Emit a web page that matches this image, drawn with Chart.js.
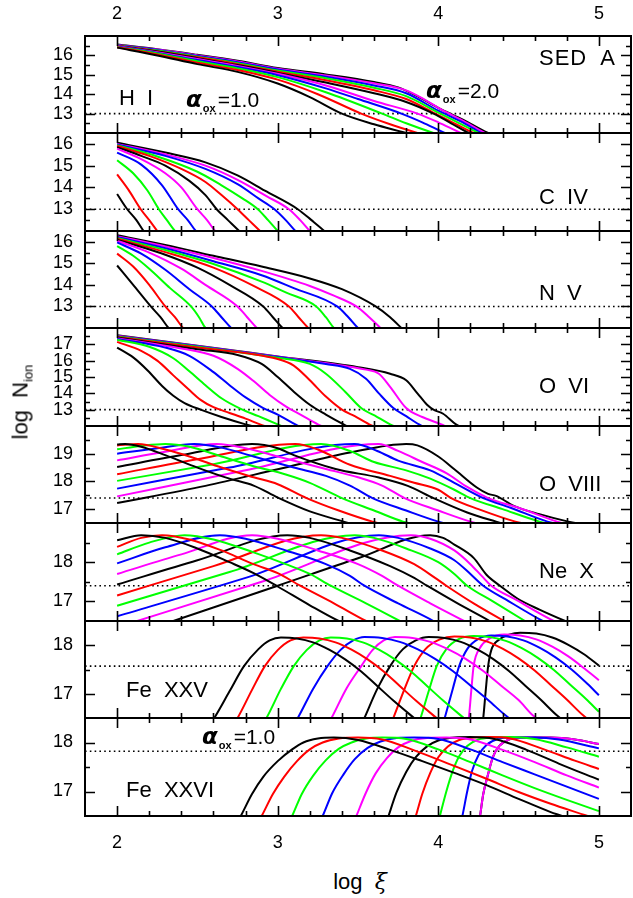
<!DOCTYPE html>
<html>
<head>
<meta charset="utf-8">
<script src="https://cdn.jsdelivr.net/npm/chart.js@4.4.1/dist/chart.umd.min.js"></script>
<style>
  html, body { margin: 0; padding: 0; background: #fff; }
  #fig { position: relative; width: 633px; height: 898px; overflow: hidden; background: #fff;
         font-family: 'Liberation Sans', Arial, sans-serif; color: #000; }
  #fig canvas { position: absolute; left: 0; }
  .lbl { position: absolute; white-space: pre; font-size: 22px; line-height: 1; transform: translateY(-50%); }
  .alpha { position: absolute; white-space: nowrap; line-height: 1; transform: translateY(-50%); }
  .alpha .a { font: bold italic 23px 'DejaVu Sans', sans-serif; }
  .alpha .s { font: bold 11px 'Liberation Sans', Arial, sans-serif; position: relative; top: 5px; margin-left: 1px; }
  .alpha .v { font-size: 21px; margin-left: 2px; }
  sub { font-size: 13px; vertical-align: -5px; }
</style>
</head>
<body>
<div id="fig"></div>
<script>
// ---- data: log column density vs log ionisation parameter, one curve per alpha_ox ----
const alphaOx = [1.0, 1.1, 1.2, 1.3, 1.4, 1.5, 1.6, 1.7, 1.8, 1.9, 2.0];
const xTickValues = [2, 3, 4, 5];
const ionNames = ['H  I', 'C  IV', 'N  V', 'O  VI', 'O  VIII', 'Ne  X', 'Fe  XXV', 'Fe  XXVI'];
const yMins = [12, 12, 12, 12, 16.5, 16.5, 16.5, 16.5];
const yMaxs = [17, 16.5, 16.5, 18, 20, 19, 18.5, 18.5];
const yTickLabels = [[13, 14, 15, 16], [13, 14, 15, 16], [13, 14, 15, 16], [13, 14, 15, 16, 17],
                     [17, 18, 19], [17, 18], [17, 18], [17, 18]];
const detectionLimits = [13, 13, 13, 13, 17.4, 17.4, 17.57, 17.82];

const hI = [
  [[2,16.4],[2.25,16.0],[2.5,15.55],[2.75,15.15],[3,14.55],[3.2,13.85],[3.4,13.0],[3.6,12.45],[3.8,12.0],[3.9,11.75]],
  [[2,16.42],[2.25,16.05],[2.5,15.62],[2.75,15.25],[3,14.75],[3.25,14.0],[3.52,13.0],[3.7,12.45],[3.87,12.0],[3.95,11.8]],
  [[2,16.44],[2.25,16.1],[2.5,15.7],[2.75,15.33],[3,14.88],[3.3,14.1],[3.65,13.0],[3.8,12.5],[3.97,12.0],[4.05,11.8]],
  [[2,16.46],[2.25,16.13],[2.5,15.76],[2.75,15.4],[3,14.98],[3.3,14.3],[3.5,13.75],[3.77,13.0],[3.9,12.55],[4.04,12.0],[4.1,11.8]],
  [[2,16.48],[2.25,16.16],[2.5,15.82],[2.75,15.46],[3,15.05],[3.3,14.45],[3.6,13.65],[3.87,13.0],[4.0,12.55],[4.14,12.0],[4.2,11.8]],
  [[2,16.49],[2.25,16.2],[2.5,15.86],[2.75,15.5],[3,15.1],[3.3,14.6],[3.6,14.05],[3.8,13.6],[3.97,13.0],[4.08,12.5],[4.19,12.0],[4.25,11.8]],
  [[2,16.5],[2.25,16.22],[2.5,15.9],[2.75,15.55],[3,15.16],[3.3,14.72],[3.6,14.2],[3.8,13.75],[3.98,13.0],[4.1,12.5],[4.22,12.0],[4.28,11.8]],
  [[2,16.51],[2.25,16.25],[2.5,15.93],[2.75,15.6],[3,15.22],[3.3,14.82],[3.6,14.33],[3.8,13.9],[4.0,13.05],[4.12,12.55],[4.25,12.0],[4.3,11.8]],
  [[2,16.52],[2.25,16.28],[2.5,15.97],[2.75,15.65],[3,15.27],[3.3,14.9],[3.6,14.45],[3.8,14.05],[4.0,13.15],[4.14,12.6],[4.27,12.0],[4.32,11.8]],
  [[2,16.54],[2.25,16.3],[2.5,16.0],[2.75,15.69],[3,15.31],[3.3,14.97],[3.6,14.56],[3.8,14.2],[3.92,13.7],[4.02,13.2],[4.15,12.65],[4.29,12.0],[4.35,11.8]],
  [[2,16.56],[2.25,16.32],[2.5,16.03],[2.75,15.72],[3,15.35],[3.3,15.02],[3.6,14.63],[3.75,14.35],[3.88,13.85],[4.0,13.3],[4.15,12.7],[4.31,12.0],[4.38,11.8]]
];

const cIV = [
  [[2,13.7],[2.063,13.0],[2.12,12.5],[2.165,12.0],[2.2,11.7]],
  [[2,14.6],[2.07,13.9],[2.147,13.0],[2.2,12.5],[2.25,12.0],[2.28,11.7]],
  [[2,15.25],[2.1,14.65],[2.19,13.85],[2.26,13.0],[2.31,12.5],[2.36,12.0],[2.4,11.7]],
  [[2,15.6],[2.15,15.05],[2.28,14.1],[2.38,13.0],[2.44,12.5],[2.49,12.0],[2.53,11.7]],
  [[2,15.78],[2.15,15.3],[2.3,14.65],[2.4,14.0],[2.5,13.0],[2.56,12.5],[2.61,12.0],[2.65,11.7]],
  [[2,15.85],[2.15,15.45],[2.3,15.0],[2.45,14.3],[2.55,13.65],[2.62,13.0],[2.69,12.5],[2.76,12.0],[2.8,11.7]],
  [[2,15.9],[2.2,15.45],[2.4,14.85],[2.55,14.25],[2.65,13.65],[2.75,13.0],[2.82,12.5],[2.89,12.0],[2.93,11.7]],
  [[2,15.94],[2.25,15.42],[2.5,14.72],[2.65,14.1],[2.78,13.5],[2.876,13.0],[2.94,12.5],[3.0,12.0],[3.04,11.7]],
  [[2,15.97],[2.3,15.45],[2.55,14.85],[2.75,14.15],[2.88,13.5],[2.98,13.0],[3.05,12.5],[3.11,12.0],[3.15,11.7]],
  [[2,16.0],[2.3,15.52],[2.55,15.0],[2.75,14.35],[2.93,13.6],[3.07,13.0],[3.14,12.5],[3.2,12.0],[3.24,11.7]],
  [[2,16.05],[2.3,15.6],[2.55,15.15],[2.75,14.55],[2.92,13.85],[3.125,13.0],[3.21,12.5],[3.29,12.0],[3.33,11.7]]
];

const nV = [
  [[2,14.9],[2.1,14.0],[2.21,13.0],[2.27,12.5],[2.32,12.0],[2.36,11.7]],
  [[2,15.45],[2.1,14.85],[2.2,14.0],[2.3,13.0],[2.36,12.5],[2.41,12.0],[2.45,11.7]],
  [[2,15.8],[2.1,15.35],[2.2,14.75],[2.33,13.85],[2.46,13.0],[2.51,12.5],[2.55,12.0],[2.6,11.7]],
  [[2,15.97],[2.15,15.45],[2.3,14.7],[2.45,13.8],[2.59,13.0],[2.65,12.5],[2.71,12.0],[2.75,11.7]],
  [[2,16.05],[2.2,15.5],[2.4,14.75],[2.55,14.0],[2.75,13.0],[2.81,12.5],[2.87,12.0],[2.91,11.7]],
  [[2,16.1],[2.3,15.4],[2.5,14.8],[2.7,14.0],[2.91,13.0],[2.97,12.5],[3.03,12.0],[3.07,11.7]],
  [[2,16.14],[2.3,15.52],[2.6,14.8],[2.85,13.95],[3.07,13.0],[3.13,12.5],[3.19,12.0],[3.23,11.7]],
  [[2,16.18],[2.3,15.62],[2.6,14.97],[2.9,14.15],[3.05,13.65],[3.24,13.0],[3.3,12.5],[3.35,12.0],[3.4,11.7]],
  [[2,16.22],[2.3,15.7],[2.6,15.1],[2.9,14.45],[3.1,13.85],[3.37,13.0],[3.44,12.5],[3.5,12.0],[3.55,11.7]],
  [[2,16.26],[2.3,15.78],[2.6,15.25],[2.9,14.65],[3.2,13.95],[3.35,13.5],[3.49,13.0],[3.57,12.5],[3.64,12.0],[3.68,11.7]],
  [[2,16.3],[2.3,15.85],[2.6,15.35],[2.9,14.85],[3.2,14.3],[3.4,13.8],[3.61,13.0],[3.7,12.5],[3.77,12.0],[3.81,11.7]]
];

const oVI = [
  [[2,16.8],[2.1,16.2],[2.19,15.4],[2.28,14.45],[2.35,13.85],[2.42,13.4],[2.52,13.0],[2.65,12.55],[2.8,12.1],[2.9,11.85]],
  [[2,17.15],[2.15,16.6],[2.25,16.0],[2.35,15.1],[2.45,14.2],[2.52,13.6],[2.6,13.15],[2.7,12.8],[2.8,12.45],[2.89,12.1],[2.95,11.9]],
  [[2,17.28],[2.2,16.85],[2.35,16.15],[2.45,15.35],[2.55,14.5],[2.65,13.7],[2.77,13.05],[2.88,12.6],[3.0,12.1],[3.05,11.9]],
  [[2,17.33],[2.3,16.8],[2.45,16.3],[2.6,15.3],[2.7,14.5],[2.8,13.75],[2.91,13.1],[3.0,12.7],[3.11,12.1],[3.15,11.9]],
  [[2,17.38],[2.4,16.75],[2.6,16.3],[2.75,15.5],[2.85,14.75],[2.95,13.9],[3.05,13.2],[3.15,12.65],[3.25,12.1],[3.3,11.9]],
  [[2,17.42],[2.5,16.7],[2.75,16.35],[2.9,15.8],[3.0,15.0],[3.1,14.1],[3.2,13.3],[3.3,12.7],[3.41,12.1],[3.45,11.9]],
  [[2,17.45],[2.5,16.8],[3.0,16.1],[3.1,15.7],[3.2,14.8],[3.3,13.8],[3.4,13.0],[3.48,12.6],[3.57,12.1],[3.62,11.9]],
  [[2,17.48],[2.5,16.85],[3.0,16.18],[3.2,15.8],[3.3,15.2],[3.42,14.1],[3.52,13.1],[3.62,12.55],[3.7,12.1],[3.75,11.9]],
  [[2,17.5],[2.5,16.88],[3.0,16.22],[3.3,15.8],[3.45,15.5],[3.55,14.9],[3.63,14.0],[3.72,13.1],[3.8,12.6],[3.88,12.1],[3.92,11.9]],
  [[2,17.52],[2.5,16.9],[3.0,16.24],[3.4,15.7],[3.55,15.45],[3.63,15.2],[3.7,14.4],[3.8,13.1],[3.9,12.55],[4.02,12.1],[4.06,11.9]],
  [[2,17.55],[2.5,16.92],[3.0,16.26],[3.5,15.6],[3.7,15.2],[3.8,14.8],[3.87,14.0],[3.93,13.3],[3.97,13.0],[4.03,12.75],[4.11,12.1],[4.15,11.9]]
];

const oVIII = [
  [[2,19.33],[2.05,19.35],[2.15,19.25],[2.3,18.95],[2.5,18.5],[2.7,18.1],[2.85,17.85],[3.0,17.42],[3.2,16.92],[3.41,16.55],[3.5,16.4]],
  [[2,19.3],[2.13,19.35],[2.3,19.15],[2.45,18.9],[2.65,18.5],[2.85,18.15],[3.0,17.9],[3.18,17.4],[3.38,16.95],[3.59,16.55],[3.7,16.4]],
  [[2,19.16],[2.15,19.28],[2.3,19.35],[2.45,19.25],[2.65,18.9],[2.85,18.55],[3.05,18.25],[3.2,17.95],[3.4,17.4],[3.6,16.95],[3.78,16.55],[3.9,16.4]],
  [[2,19.0],[2.25,19.2],[2.48,19.35],[2.65,19.22],[2.85,18.9],[3.1,18.5],[3.3,18.2],[3.45,17.85],[3.59,17.4],[3.8,16.95],[4.0,16.55],[4.1,16.4]],
  [[2,18.76],[2.3,19.07],[2.62,19.35],[2.8,19.2],[3.0,18.9],[3.3,18.45],[3.5,18.15],[3.65,17.85],[3.79,17.4],[4.0,16.95],[4.2,16.55],[4.3,16.4]],
  [[2,18.52],[2.4,18.95],[2.84,19.35],[3.0,19.2],[3.1,18.95],[3.36,18.45],[3.63,18.14],[3.81,17.84],[3.97,17.4],[4.18,16.88],[4.36,16.55],[4.45,16.4]],
  [[2,18.26],[2.5,18.8],[3.11,19.35],[3.25,19.15],[3.45,18.6],[3.7,18.2],[3.85,17.95],[4.0,17.7],[4.08,17.4],[4.25,17.0],[4.48,16.55],[4.6,16.4]],
  [[2,18.02],[2.6,18.62],[3.27,19.35],[3.45,19.1],[3.6,18.7],[3.8,18.4],[3.95,18.1],[4.1,17.7],[4.2,17.4],[4.4,17.0],[4.63,16.55],[4.7,16.45]],
  [[2,17.74],[2.7,18.5],[3.48,19.35],[3.62,19.1],[3.75,18.75],[3.95,18.4],[4.1,17.95],[4.28,17.4],[4.45,17.05],[4.68,16.55],[4.75,16.45]],
  [[2,17.46],[2.8,18.4],[3.63,19.35],[3.75,19.1],[3.9,18.7],[4.05,18.3],[4.18,17.8],[4.31,17.4],[4.5,17.05],[4.74,16.55],[4.8,16.45]],
  [[2,17.22],[2.55,17.84],[3.0,18.44],[3.45,19.04],[3.8,19.35],[3.87,19.3],[4.0,18.9],[4.1,18.44],[4.24,17.78],[4.31,17.55],[4.36,17.48],[4.47,17.12],[4.63,16.82],[4.81,16.55],[4.9,16.45]]
];

const neX = [
  [[2,18.56],[2.15,18.69],[2.3,18.62],[2.5,18.35],[2.7,18.0],[2.85,17.72],[3.0,17.38],[3.2,16.9],[3.38,16.5],[3.5,16.3]],
  [[2,18.39],[2.15,18.62],[2.28,18.69],[2.45,18.58],[2.65,18.3],[2.85,17.95],[3.0,17.72],[3.14,17.4],[3.35,16.95],[3.55,16.5],[3.65,16.3]],
  [[2,18.2],[2.2,18.5],[2.42,18.69],[2.6,18.58],[2.85,18.25],[3.05,17.95],[3.2,17.7],[3.33,17.4],[3.55,16.95],[3.76,16.5],[3.85,16.3]],
  [[2,17.97],[2.3,18.38],[2.64,18.69],[2.8,18.6],[3.05,18.3],[3.3,17.95],[3.45,17.65],[3.54,17.4],[3.75,16.95],[3.97,16.5],[4.05,16.3]],
  [[2,17.7],[2.4,18.2],[2.84,18.69],[3.0,18.6],[3.25,18.3],[3.5,17.95],[3.65,17.65],[3.75,17.4],[3.95,16.95],[4.16,16.5],[4.25,16.3]],
  [[2,17.43],[2.5,18.05],[3.06,18.69],[3.2,18.62],[3.45,18.3],[3.7,17.9],[3.85,17.6],[3.93,17.4],[4.12,16.95],[4.32,16.5],[4.4,16.3]],
  [[2,17.15],[2.6,17.9],[3.27,18.69],[3.4,18.62],[3.65,18.3],[3.85,17.95],[3.98,17.6],[4.05,17.4],[4.22,16.95],[4.41,16.5],[4.5,16.3]],
  [[2,16.89],[2.7,17.75],[3.48,18.69],[3.6,18.62],[3.8,18.35],[4.0,18.0],[4.1,17.7],[4.18,17.4],[4.34,17.0],[4.54,16.5],[4.6,16.35]],
  [[2,16.62],[2.8,17.6],[3.63,18.69],[3.75,18.62],[3.95,18.35],[4.1,18.05],[4.2,17.7],[4.28,17.4],[4.42,17.05],[4.65,16.5],[4.7,16.4]],
  [[2,16.34],[2.9,17.5],[3.83,18.69],[3.95,18.6],[4.1,18.3],[4.2,17.95],[4.27,17.65],[4.33,17.4],[4.48,17.05],[4.72,16.5],[4.78,16.4]],
  [[2.2,16.3],[2.35,16.5],[3.0,17.4],[3.5,18.1],[3.95,18.69],[4.03,18.62],[4.1,18.45],[4.22,18.11],[4.3,17.68],[4.39,17.38],[4.49,17.08],[4.63,16.79],[4.79,16.5],[4.85,16.4]]
];

const feXXV = [
  [[2.5,16.0],[2.605,16.5],[2.7,17.05],[2.79,17.57],[2.88,17.92],[2.95,18.1],[3.02,18.16],[3.12,18.14],[3.22,18.06],[3.32,17.91],[3.42,17.71],[3.52,17.46],[3.62,17.16],[3.72,16.86],[3.82,16.58],[3.92,16.31]],
  [[2.65,16.0],[2.75,16.5],[2.84,17.08],[2.92,17.57],[3.0,17.9],[3.08,18.1],[3.16,18.16],[3.26,18.14],[3.36,18.06],[3.46,17.91],[3.56,17.71],[3.66,17.46],[3.76,17.16],[3.86,16.86],[3.96,16.58],[4.06,16.31]],
  [[2.83,16.0],[2.93,16.5],[3.02,17.1],[3.1,17.57],[3.18,17.9],[3.26,18.1],[3.33,18.16],[3.43,18.14],[3.53,18.06],[3.63,17.91],[3.73,17.71],[3.83,17.46],[3.93,17.16],[4.03,16.86],[4.13,16.58],[4.23,16.31]],
  [[3.03,16.0],[3.125,16.5],[3.22,17.1],[3.31,17.57],[3.39,17.9],[3.47,18.1],[3.54,18.17],[3.65,18.15],[3.76,18.07],[3.87,17.92],[3.98,17.72],[4.09,17.47],[4.2,17.17],[4.31,16.87],[4.42,16.55],[4.52,16.3]],
  [[3.25,16.0],[3.335,16.5],[3.43,17.12],[3.52,17.57],[3.59,17.9],[3.66,18.1],[3.73,18.17],[3.84,18.15],[3.95,18.07],[4.06,17.92],[4.17,17.72],[4.28,17.47],[4.39,17.17],[4.5,16.87],[4.59,16.55],[4.7,16.3]],
  [[3.47,16.0],[3.54,16.5],[3.62,17.1],[3.7,17.57],[3.78,17.92],[3.86,18.1],[3.94,18.17],[4.04,18.15],[4.14,18.07],[4.24,17.92],[4.34,17.72],[4.44,17.47],[4.54,17.17],[4.64,16.87],[4.74,16.55],[4.84,16.3]],
  [[3.66,16.0],[3.72,16.5],[3.79,17.1],[3.85,17.57],[3.92,17.92],[4.01,18.12],[4.1,18.18],[4.2,18.16],[4.3,18.08],[4.4,17.93],[4.5,17.73],[4.6,17.48],[4.7,17.18],[4.8,16.88],[4.9,16.56],[5.0,16.3]],
  [[3.84,16.0],[3.89,16.5],[3.94,17.05],[3.99,17.57],[4.05,17.92],[4.13,18.13],[4.22,18.19],[4.32,18.17],[4.42,18.09],[4.52,17.94],[4.62,17.74],[4.72,17.49],[4.82,17.19],[4.92,16.89],[5.0,16.63]],
  [[4.0,16.0],[4.04,16.5],[4.09,17.1],[4.13,17.57],[4.18,17.92],[4.25,18.13],[4.33,18.2],[4.43,18.18],[4.53,18.1],[4.63,17.95],[4.73,17.75],[4.83,17.5],[4.93,17.2],[5.0,16.97]],
  [[4.16,16.0],[4.19,16.5],[4.205,17.05],[4.22,17.57],[4.26,17.95],[4.32,18.14],[4.41,18.22],[4.51,18.2],[4.61,18.12],[4.71,17.97],[4.81,17.77],[4.91,17.52],[5.0,17.28]],
  [[4.26,16.0],[4.28,16.5],[4.295,17.05],[4.31,17.56],[4.33,17.9],[4.38,18.12],[4.44,18.22],[4.51,18.26],[4.61,18.24],[4.71,18.16],[4.81,18.01],[4.91,17.81],[5.0,17.58]]
];

const feXXVI = [
  [[2.7,16.1],[2.77,16.5],[2.84,16.95],[2.91,17.3],[3.0,17.62],[3.09,17.86],[3.16,18.0],[3.25,18.08],[3.35,18.1],[3.5,18.05],[3.7,17.85],[3.9,17.62],[4.1,17.38],[4.3,17.13],[4.5,16.85],[4.7,16.58],[4.77,16.5],[4.85,16.4]],
  [[2.83,16.1],[2.9,16.5],[2.97,16.95],[3.04,17.3],[3.12,17.62],[3.2,17.86],[3.28,18.0],[3.38,18.08],[3.5,18.1],[3.65,18.06],[3.85,17.84],[4.1,17.52],[4.3,17.26],[4.5,16.99],[4.7,16.75],[4.93,16.5],[5.0,16.42]],
  [[3.03,16.1],[3.09,16.5],[3.15,16.95],[3.22,17.32],[3.3,17.64],[3.38,17.87],[3.46,18.0],[3.55,18.08],[3.65,18.1],[3.8,18.07],[4.0,17.86],[4.2,17.6],[4.4,17.33],[4.6,17.07],[4.8,16.83],[5.0,16.6]],
  [[3.22,16.1],[3.28,16.5],[3.34,16.97],[3.41,17.35],[3.48,17.66],[3.56,17.89],[3.64,18.02],[3.74,18.09],[3.85,18.1],[4.0,18.07],[4.2,17.86],[4.4,17.6],[4.6,17.35],[4.8,17.1],[5.0,16.85]],
  [[3.44,16.1],[3.49,16.5],[3.55,16.98],[3.61,17.37],[3.68,17.68],[3.75,17.9],[3.83,18.03],[3.93,18.09],[4.05,18.1],[4.2,18.06],[4.4,17.85],[4.6,17.6],[4.8,17.33],[5.0,17.08]],
  [[3.65,16.1],[3.69,16.5],[3.74,16.98],[3.8,17.4],[3.86,17.7],[3.93,17.92],[4.0,18.04],[4.1,18.1],[4.2,18.11],[4.35,18.07],[4.55,17.85],[4.75,17.57],[5.0,17.24]],
  [[3.82,16.1],[3.86,16.5],[3.9,16.95],[3.95,17.38],[4.0,17.7],[4.06,17.92],[4.13,18.05],[4.22,18.1],[4.32,18.11],[4.45,18.08],[4.65,17.87],[4.85,17.63],[5.0,17.46]],
  [[3.98,16.1],[4.01,16.5],[4.05,17.0],[4.09,17.42],[4.13,17.72],[4.18,17.93],[4.25,18.06],[4.34,18.1],[4.45,18.11],[4.6,18.07],[4.8,17.9],[5.0,17.71]],
  [[4.12,16.1],[4.15,16.5],[4.18,17.0],[4.21,17.42],[4.25,17.74],[4.3,17.95],[4.37,18.07],[4.46,18.1],[4.6,18.1],[4.75,18.06],[5.0,17.88]],
  [[4.24,16.1],[4.26,16.5],[4.28,16.95],[4.31,17.35],[4.34,17.7],[4.38,17.93],[4.44,18.06],[4.52,18.1],[4.7,18.1],[4.85,18.06],[5.0,17.97]],
  [[4.24,16.1],[4.26,16.5],[4.28,16.95],[4.31,17.35],[4.34,17.7],[4.38,17.93],[4.44,18.06],[4.52,18.1],[4.7,18.1],[4.85,18.06],[5.0,17.97]]
];

const ionSeries = [hI, cIV, nV, oVI, oVIII, neX, feXXV, feXXVI];

// ---- styling / layout ----
const curveColors = ['#000000', '#ff0000', '#00ff00', '#0000ff', '#ff00ff'];
const panelEdges = [36, 133, 231, 328, 426, 523, 621, 718, 816];
const plotLeft = 85, pageWidth = 633, margin = 40;
const tickFont = { family: "'Liberation Sans', Arial, sans-serif", size: 18 };

// inward tick marks on all four sides plus the panel frame
const framePlugin = {
  id: 'frame',
  afterDatasetsDraw(chart) {
    const { ctx, chartArea: a, scales: { x, y } } = chart;
    ctx.save();
    ctx.strokeStyle = '#000';
    ctx.lineCap = 'butt';
    ctx.lineWidth = 1.6;
    ctx.beginPath();
    for (let k = 0; ; k++) {
      const v = +(x.min + 0.2 * k).toFixed(3);
      if (v > x.max + 1e-6) break;
      if (v <= x.min + 1e-6 || v >= x.max - 1e-6) continue;
      const px = Math.round(x.getPixelForValue(v)) + 0.5;
      const len = Math.abs(v - Math.round(v)) < 1e-6 ? 10 : 5;
      ctx.moveTo(px, a.top); ctx.lineTo(px, a.top + len);
      ctx.moveTo(px, a.bottom); ctx.lineTo(px, a.bottom - len);
    }
    const y0 = Math.ceil(y.min * 2) / 2;
    for (let v = y0; v < y.max - 1e-6; v += 0.5) {
      if (v <= y.min + 1e-6) continue;
      const py = Math.round(y.getPixelForValue(v)) + 0.5;
      const len = Math.abs(v - Math.round(v)) < 1e-6 ? 10 : 5;
      ctx.moveTo(a.left, py); ctx.lineTo(a.left + len, py);
      ctx.moveTo(a.right, py); ctx.lineTo(a.right - len, py);
    }
    ctx.stroke();
    ctx.lineWidth = 2;
    ctx.strokeRect(a.left, a.top, a.right - a.left, a.bottom - a.top);
    ctx.restore();
  }
};

const fig = document.getElementById('fig');
const lastPanel = ionSeries.length - 1;

ionSeries.forEach((series, i) => {
  const top = panelEdges[i], bottom = panelEdges[i + 1];
  const canvas = document.createElement('canvas');
  canvas.width = pageWidth;
  canvas.height = bottom - top + 2 * margin;
  canvas.style.top = (top - margin) + 'px';
  canvas.style.width = pageWidth + 'px';
  canvas.style.height = canvas.height + 'px';
  fig.appendChild(canvas);

  const datasets = series.map((pts, k) => ({
    label: 'alpha_ox = ' + alphaOx[k].toFixed(1),
    data: pts.map(([x, y]) => ({ x, y })),
    borderColor: curveColors[k % curveColors.length],
    borderWidth: 2,
    pointRadius: 0,
    cubicInterpolationMode: 'monotone',
    fill: false
  }));
  datasets.push({
    label: 'limit',
    data: [{ x: 1.8, y: detectionLimits[i] }, { x: 5.2, y: detectionLimits[i] }],
    borderColor: '#000',
    borderWidth: 1.6,
    borderDash: [1.6, 3.2],
    pointRadius: 0,
    fill: false
  });

  // the top panel carries the upper log xi labels, the bottom panel the lower ones;
  // their x axis box fills the margin so the labels are not clipped away
  const showX = i === 0 || i === lastPanel;
  const pad = {
    top: i === 0 ? 0 : margin,
    bottom: i === lastPanel ? 0 : margin,
    left: 0, right: 2
  };
  new Chart(canvas, {
    type: 'line',
    data: { datasets },
    options: {
      responsive: false,
      animation: false,
      devicePixelRatio: 1,
      events: [],
      layout: { padding: pad },
      plugins: { legend: { display: false }, tooltip: { enabled: false } },
      scales: {
        x: {
          type: 'linear',
          position: i === 0 ? 'top' : 'bottom',
          min: 1.8, max: 5.2,
          afterBuildTicks: s => { s.ticks = xTickValues.map(v => ({ value: v })); },
          afterFit: s => { s.height = showX ? margin : 0; },
          grid: { display: false, drawTicks: false },
          border: { display: false },
          ticks: { display: showX, color: '#000', font: tickFont, padding: i === 0 ? 11 : 16,
                   maxRotation: 0, autoSkip: false }
        },
        y: {
          type: 'linear',
          min: yMins[i], max: yMaxs[i],
          afterBuildTicks: s => { s.ticks = yTickLabels[i].map(v => ({ value: v })); },
          afterFit: s => { s.width = plotLeft; },
          grid: { display: false, drawTicks: false },
          border: { display: false },
          ticks: { color: '#000', font: tickFont, padding: 12, autoSkip: false }
        }
      }
    },
    plugins: [framePlugin]
  });
});

// ---- text annotations ----
function addLabel(html, left, centerY, cls) {
  const d = document.createElement('div');
  d.className = cls || 'lbl';
  d.innerHTML = html;
  d.style.left = left + 'px';
  d.style.top = centerY + 'px';
  fig.appendChild(d);
  return d;
}
addLabel('SED  A', 539, 58).style.letterSpacing = '1px';
addLabel(ionNames[0], 119, 98);
addLabel(ionNames[1], 539, 197);
addLabel(ionNames[2], 539, 293);
addLabel(ionNames[3], 539, 386);
addLabel(ionNames[4], 539, 484);
addLabel(ionNames[5], 539, 571);
addLabel(ionNames[6], 126, 690);
addLabel(ionNames[7], 126, 790);
const alphaHtml = v => '<span class="a">α</span><span class="s">ox</span><span class="v">=' + v + '</span>';
addLabel(alphaHtml('1.0'), 186, 99, 'alpha');
addLabel(alphaHtml('2.0'), 426, 90, 'alpha');
addLabel(alphaHtml('1.0'), 202, 736, 'alpha');

const xt = document.createElement('div');
xt.style.cssText = 'position:absolute;left:360px;top:882px;transform:translate(-50%,-50%);font-size:22px;white-space:nowrap;line-height:1';
xt.innerHTML = 'log&nbsp; <i style="font-family:\'DejaVu Serif\',serif">ξ</i>';
fig.appendChild(xt);

const yt = document.createElement('div');
yt.style.cssText = 'position:absolute;left:22px;top:402px;transform:translate(-50%,-50%) rotate(-90deg);font-size:22px;white-space:nowrap;line-height:1';
yt.innerHTML = 'log&nbsp; N<sub>ion</sub>';
fig.appendChild(yt);
</script>
</body>
</html>
